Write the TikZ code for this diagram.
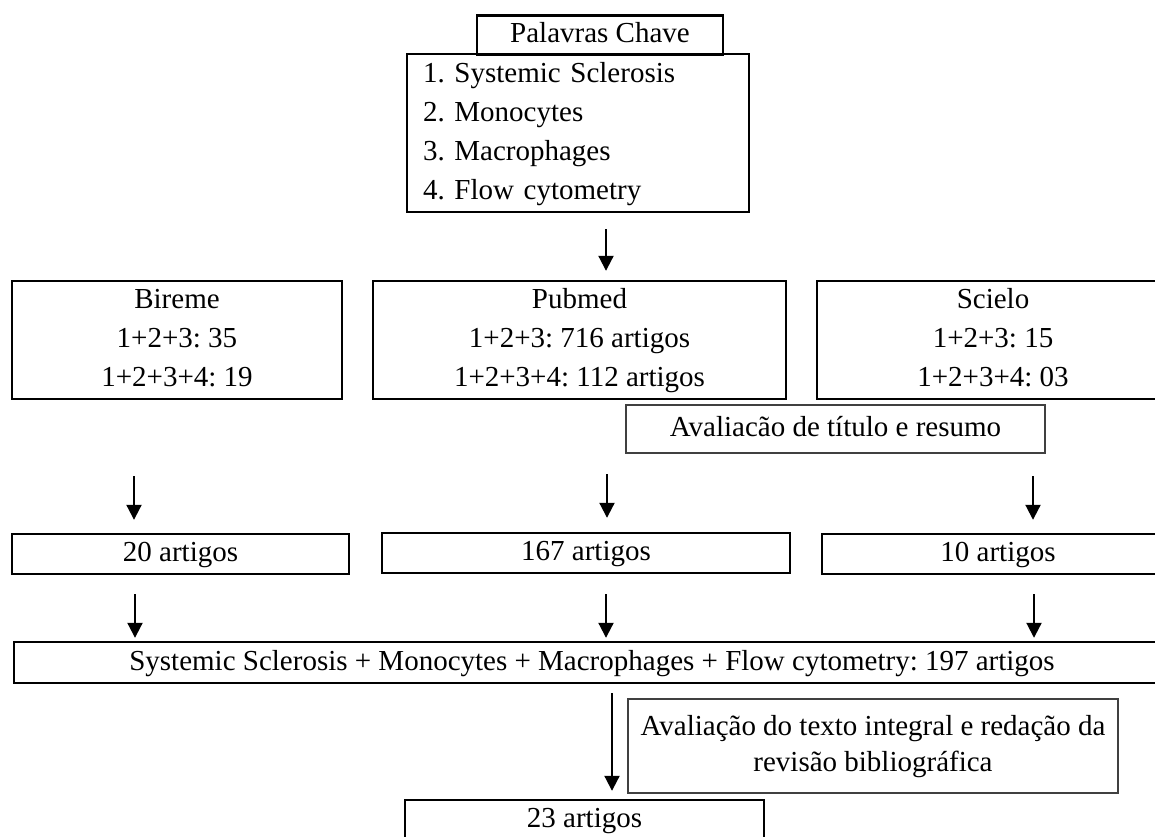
\documentclass[tikz,border=0pt]{standalone}
\usepackage{fontspec}
\setmainfont{Liberation Serif}
\usepackage{tikz}
\usetikzlibrary{arrows.meta}

\begin{document}
\frenchspacing
\begin{tikzpicture}[x=1pt,y=-1pt,
    caixa/.style={draw, line width=2.4pt, inner sep=0pt, align=center,
      font=\fontsize{29}{39}\selectfont},
    nota/.style={caixa, line width=1.5pt, draw=black!75},
    seta/.style={line width=2pt, -{Triangle[length=15pt,width=15pt]}}]
  \path[use as bounding box, clip] (0,0) rectangle (1155,836);
  % palavras chave
  \node[caixa, minimum width=342pt, minimum height=158pt, align=left,
    text width=310pt, inner xsep=16pt] (kw) at (578,133)
    {\strut 1. Systemic Sclerosis\\2. Monocytes\\3. Macrophages\\4. Flow cytometry\strut};
  \node[caixa, minimum width=246pt, minimum height=38pt] (pc) at (600,35) {\strut Palavras Chave};
  % bases
  \node[caixa, minimum width=330pt, minimum height=118pt] (bir) at (177,340)
    {\strut Bireme\\1+2+3: 35\\1+2+3+4: 19\strut};
  \node[caixa, minimum width=413pt, minimum height=118pt] (pub) at (579.5,340)
    {\strut Pubmed\\1+2+3: 716 artigos\\1+2+3+4: 112 artigos\strut};
  \node[caixa, minimum width=352pt, minimum height=118pt] (sci) at (993,340)
    {\strut Scielo\\1+2+3: 15\\1+2+3+4: 03\strut};
  \node[nota, minimum width=419pt, minimum height=48pt] (av1) at (835.5,429)
    {\raisebox{-4pt}{\strut Avaliacão de título e resumo}};
  % selecionados
  \node[caixa, minimum width=337pt, minimum height=40pt] (a20) at (180.5,554) {\strut 20 artigos};
  \node[caixa, minimum width=408pt, minimum height=40pt] (a167) at (586,553) {\strut 167 artigos};
  \node[caixa, minimum width=352pt, minimum height=40pt] (a10) at (998,554) {\strut 10 artigos};
  \node[caixa, minimum width=1156pt, minimum height=41pt] (sys) at (592,662.5)
    {\strut Systemic Sclerosis + Monocytes + Macrophages + Flow cytometry: 197 artigos};
  \node[nota, minimum width=490pt, minimum height=94pt, font=\fontsize{29}{36}\selectfont] (av2) at (873,746)
    {\strut Avaliação do texto integral e redação da\\revisão bibliográfica\strut};
  \node[caixa, minimum width=359pt, minimum height=40pt] (a23) at (584.5,820) {\strut 23 artigos};
  % setas
  \draw[seta, shorten <=16pt, shorten >=9pt] ([xshift=28pt]kw.south) -- ([xshift=28pt]kw.south |- pub.north);
  \draw[seta, shorten <=76pt, shorten >=13pt] ([xshift=-43pt]bir.south) -- ([xshift=-43pt]bir.south |- a20.north);
  \draw[seta, shorten <=74pt, shorten >=14pt] ([xshift=27.5pt]pub.south) -- ([xshift=27.5pt]pub.south |- a167.north);
  \draw[seta, shorten <=76pt, shorten >=13pt] ([xshift=40pt]sci.south) -- ([xshift=40pt]sci.south |- a10.north);
  \draw[seta, shorten <=19pt, shorten >=3pt] ([xshift=-45.5pt]a20.south) -- ([xshift=-45.5pt]a20.south |- sys.north);
  \draw[seta, shorten <=20pt, shorten >=3pt] ([xshift=20pt]a167.south) -- ([xshift=20pt]a167.south |- sys.north);
  \draw[seta, shorten <=19pt, shorten >=3pt] ([xshift=36pt]a10.south) -- ([xshift=36pt]a10.south |- sys.north);
  \draw[seta, shorten <=9pt, shorten >=8pt] ([xshift=20pt]sys.south) -- ([xshift=20pt]sys.south |- a23.north);
\end{tikzpicture}
\end{document}
